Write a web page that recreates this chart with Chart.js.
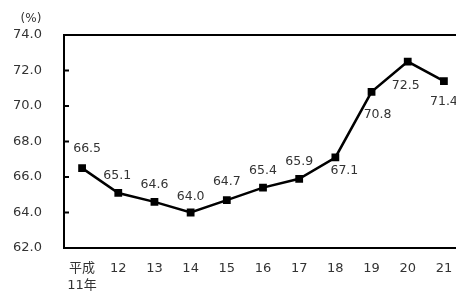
<!DOCTYPE html>
<html>
<head>
<meta charset="utf-8">
<script src="https://cdn.jsdelivr.net/npm/chart.js@4/dist/chart.umd.min.js"></script>
<style>
    html, body { margin: 0; padding: 0; background: #ffffff; overflow: hidden; }
    #wrap { width: 470px; height: 291px; }
</style>
</head>
<body>
<div id="wrap"><canvas id="rate_chart" width="470" height="291"></canvas></div>
<script>
const years = [["平成", "11年"], "12", "13", "14", "15", "16", "17", "18", "19", "20", "21"];
const rates = [66.5, 65.1, 64.6, 64.0, 64.7, 65.4, 65.9, 67.1, 70.8, 72.5, 71.4];
const y_min = 62;
const y_max = 74;
const y_step = 2;
const unit_label = "(%)";

// where each value label sits relative to its point (dx, dy)
const label_offsets = [[5, -19], [-1, -17], [0, -17], [0, -16], [0, -18], [0, -17], [0, -17], [9, 13], [6, 23], [-2, 24], [0, 21]];

const text_colour = "#333333";
const font_family = "'DejaVu Sans', 'Noto Sans CJK JP', sans-serif";

const frame_plugin = {
    id: "frame",
    afterDatasetsDraw(chart) {
        const ctx = chart.ctx;
        const area = chart.chartArea;
        const y_scale = chart.scales.y;
        ctx.save();
        ctx.strokeStyle = "#000000";
        ctx.lineWidth = 2;
        ctx.beginPath();
        ctx.moveTo(area.left, area.top);
        ctx.lineTo(area.right, area.top);
        for (let v = y_min + y_step; v < y_max; v += y_step) {
            let py = y_scale.getPixelForValue(v);
            ctx.moveTo(area.left, py);
            ctx.lineTo(area.left + 5, py);
        }
        ctx.stroke();

        // unit label
        ctx.fillStyle = text_colour;
        ctx.font = "12px " + font_family;
        ctx.textAlign = "center";
        ctx.textBaseline = "middle";
        ctx.fillText(unit_label, 31, 19);

        // value labels
        ctx.font = "12.5px " + font_family;
        const meta = chart.getDatasetMeta(0);
        meta.data.forEach(function(point, i) {
            let off = label_offsets[i];
            ctx.fillText(rates[i].toFixed(1), point.x + off[0], point.y + off[1]);
        });
        ctx.restore();
    }
};

new Chart(document.getElementById("rate_chart").getContext("2d"), {
    type: "line",
    data: {
        labels: years,
        datasets: [{
            data: rates,
            borderColor: "#000000",
            backgroundColor: "#000000",
            borderWidth: 2.5,
            pointStyle: "rect",
            pointRadius: 5.5,
            pointBorderWidth: 0,
            tension: 0
        }]
    },
    options: {
        responsive: false,
        animation: false,
        devicePixelRatio: 1,
        layout: { padding: { top: 35, right: 8, left: 0, bottom: 0 } },
        plugins: {
            legend: { display: false },
            tooltip: { enabled: false }
        },
        scales: {
            x: {
                offset: true,
                grid: { display: false, drawTicks: false },
                border: { display: true, color: "#000000", width: 2 },
                ticks: {
                    color: text_colour,
                    padding: 12,
                    maxRotation: 0,
                    autoSkip: false,
                    font: { size: 13, family: font_family, lineHeight: 1.3 }
                },
                afterFit: function(scale) { scale.height = 43; }
            },
            y: {
                min: y_min,
                max: y_max,
                grid: { display: false, drawTicks: false },
                border: { display: true, color: "#000000", width: 2 },
                ticks: {
                    stepSize: y_step,
                    color: text_colour,
                    padding: 22,
                    font: { size: 13, family: font_family },
                    callback: function(value) { return value.toFixed(1); }
                },
                afterFit: function(scale) { scale.width = 64; }
            }
        }
    },
    plugins: [frame_plugin]
});
</script>
</body>
</html>
